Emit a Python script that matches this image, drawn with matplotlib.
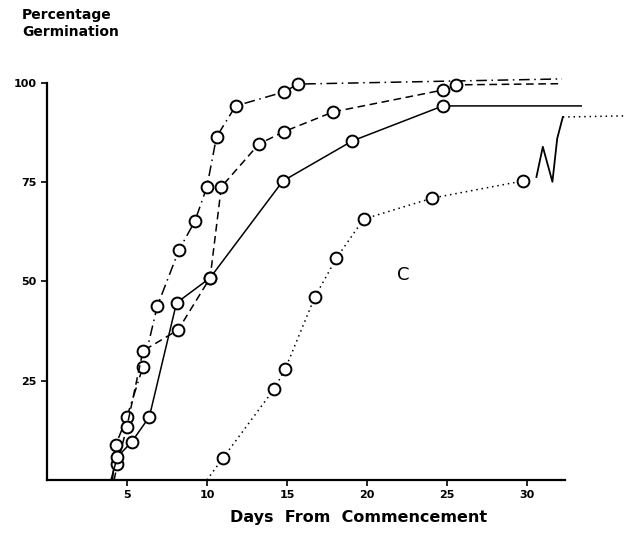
import matplotlib
matplotlib.use("Agg")
import matplotlib.pyplot as plt

# curve with highest germination (dash-dot)
days_a = [4.1, 4.3, 5.0, 6.0, 6.9, 8.25, 9.25, 10.0, 10.6, 11.8, 14.8, 15.7, 32.2]
germ_a = [0.0, 8.8, 15.9, 28.5, 43.8, 57.9, 65.2, 73.8, 86.4, 94.2, 97.7, 99.7, 101.0]
# dashed curve
days_b = [4.2, 4.4, 5.0, 6.0, 8.2, 10.2, 10.9, 13.25, 14.8, 17.9, 24.75, 25.6, 32.2]
germ_b = [0.0, 4.0, 13.4, 32.5, 37.8, 50.9, 73.8, 84.6, 87.7, 92.7, 98.2, 99.5, 99.8]
# solid curve
days_c = [4.0, 4.4, 5.3, 6.4, 8.1, 10.2, 14.75, 19.1, 24.75, 33.4]
germ_c = [0.0, 5.8, 9.6, 15.9, 44.6, 50.9, 75.3, 85.4, 94.2, 94.2]
# dotted curve (late start)
days_d = [10.0, 11.0, 14.2, 14.9, 16.75, 18.1, 19.8, 24.1, 29.75]
germ_d = [0.0, 5.5, 22.9, 28.0, 46.1, 55.9, 65.7, 71.0, 75.3]
# hand drawn break and continuation of dotted curve
days_break = [30.6, 31.0, 31.6, 31.9, 32.25]
germ_break = [76.3, 83.9, 75.1, 86.0, 91.4]
days_d2 = [32.25, 36.2]
germ_d2 = [91.4, 91.7]

fig = plt.figure(figsize=(6.26, 5.33), dpi=100)
ax = fig.add_axes([0.075, 0.0994, 0.925, 0.76])

mk = dict(marker='o', markersize=8.5, markerfacecolor='white',
          markeredgecolor='black', markeredgewidth=1.4, color='black', lw=1.1)

ax.plot(days_a, germ_a, linestyle=(0, (7, 3, 1, 3)), markevery=list(range(1, len(days_a) - 1)), **mk)
ax.plot(days_b, germ_b, linestyle=(0, (5, 3)), markevery=list(range(1, len(days_b) - 1)), **mk)
ax.plot(days_c, germ_c, linestyle='-', markevery=list(range(1, len(days_c) - 1)), **mk)
ax.plot(days_d, germ_d, linestyle=(0, (1, 2.5)), markevery=list(range(1, len(days_d))), **mk)
ax.plot(days_break, germ_break, color='black', lw=1.3)
ax.plot(days_d2, germ_d2, color='black', lw=1.1, linestyle=(0, (1, 2.5)), clip_on=False)

ax.text(22.3, 51.6, 'C', fontsize=13, ha='center', va='center')

ax.set_xlim(0, 36.2)
ax.set_ylim(0, 102)
for s in ['top', 'right']:
    ax.spines[s].set_visible(False)
ax.spines['left'].set_bounds(0, 100)
ax.spines['bottom'].set_bounds(0, 32.4)
ax.spines['left'].set_linewidth(1.6)
ax.spines['bottom'].set_linewidth(1.6)

ax.set_xticks([5, 10, 15, 20, 25, 30])
ax.set_yticks([25, 50, 75, 100])
ax.tick_params(direction='out', length=4, width=1.2, labelsize=8)
for lab in ax.get_xticklabels() + ax.get_yticklabels():
    lab.set_fontweight('bold')

ax.set_xlabel('Days  From  Commencement', fontsize=11.5, fontweight='bold')
ax.xaxis.set_label_coords(0.539, -0.075)
fig.text(0.035, 0.985, 'Percentage\nGermination', fontsize=10, fontweight='bold',
         va='top', ha='left', linespacing=1.3)

fig.savefig('out.png', dpi=100)
